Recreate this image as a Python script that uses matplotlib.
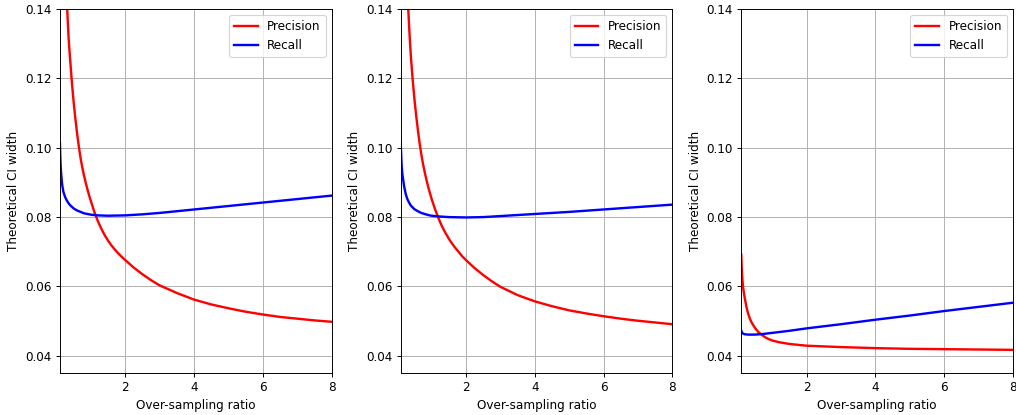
import matplotlib
matplotlib.use("Agg")
import matplotlib.pyplot as plt

# ---- Panel 1 ----
p1_prec_x = [0.3, 0.325, 0.35, 0.375, 0.4, 0.45, 0.5, 0.55, 0.6, 0.65, 0.7, 0.75, 0.8,
             0.85, 0.9, 0.95, 1.0, 1.1, 1.2, 1.3, 1.4, 1.5, 1.6, 1.7, 1.8, 1.9, 2.0,
             2.25, 2.5, 2.75, 3.0, 3.5, 4.0, 4.5, 5.0, 5.5, 6.0, 6.5, 7.0, 7.5, 8.0]
p1_prec_y = [0.1425, 0.1370, 0.1320, 0.1283, 0.1250, 0.1185, 0.1130, 0.1083, 0.1040,
             0.1003, 0.0970, 0.0943, 0.0920, 0.0899, 0.0880, 0.0862, 0.0846, 0.0815,
             0.0789, 0.0767, 0.0748, 0.0732, 0.0718, 0.0706, 0.0695, 0.0685, 0.0676,
             0.0654, 0.0635, 0.0618, 0.0603, 0.0581, 0.0562, 0.0548, 0.0537, 0.0527,
             0.0519, 0.0512, 0.0507, 0.0502, 0.0498]
p1_rec_x = [0.1, 0.11, 0.12, 0.13, 0.15, 0.167, 0.2, 0.25, 0.3, 0.35, 0.4, 0.5, 0.6,
            0.7, 0.8, 0.9, 1.0, 1.2, 1.5, 2.0, 2.5, 3.0, 3.5, 4.0, 5.0, 6.0, 7.0, 8.0]
p1_rec_y = [0.1013, 0.0975, 0.0950, 0.0932, 0.0908, 0.0892, 0.0873, 0.0858, 0.0848,
            0.0840, 0.0834, 0.0825, 0.0819, 0.0815, 0.0811, 0.0809, 0.0807, 0.0805,
            0.0804, 0.0805, 0.0808, 0.0812, 0.0817, 0.0822, 0.0832, 0.0842, 0.0852,
            0.0862]

# ---- Panel 2 ----
p2_prec_x = [0.3, 0.325, 0.35, 0.375, 0.4, 0.45, 0.5, 0.55, 0.6, 0.65, 0.7, 0.75, 0.8,
             0.85, 0.9, 0.95, 1.0, 1.1, 1.2, 1.3, 1.4, 1.5, 1.6, 1.7, 1.8, 1.9, 2.0,
             2.25, 2.5, 2.75, 3.0, 3.5, 4.0, 4.5, 5.0, 5.5, 6.0, 6.5, 7.0, 7.5, 8.0]
p2_prec_y = [0.1450, 0.1395, 0.1345, 0.1300, 0.1262, 0.1197, 0.1142, 0.1095, 0.1053,
             0.1015, 0.0982, 0.0954, 0.0930, 0.0908, 0.0888, 0.0870, 0.0853, 0.0823,
             0.0797, 0.0774, 0.0755, 0.0738, 0.0723, 0.0710, 0.0698, 0.0686, 0.0676,
             0.0653, 0.0633, 0.0615, 0.0599, 0.0575, 0.0557, 0.0543, 0.0531, 0.0522,
             0.0514, 0.0507, 0.0501, 0.0496, 0.0491]
p2_rec_x = [0.1, 0.11, 0.12, 0.13, 0.15, 0.2, 0.25, 0.3, 0.35, 0.4, 0.5, 0.6, 0.7,
            0.8, 0.9, 1.0, 1.2, 1.5, 2.0, 2.5, 3.0, 3.5, 4.0, 5.0, 6.0, 7.0, 8.0]
p2_rec_y = [0.1025, 0.0995, 0.0970, 0.0950, 0.0925, 0.0890, 0.0866, 0.0851, 0.0841,
            0.0833, 0.0823, 0.0817, 0.0812, 0.0809, 0.0806, 0.0804, 0.0802, 0.0800,
            0.0799, 0.0800, 0.0803, 0.0806, 0.0809, 0.0815, 0.0822, 0.0829, 0.0836]

# ---- Panel 3 ----
p3_prec_x = [0.1, 0.11, 0.12, 0.13, 0.15, 0.17, 0.2, 0.25, 0.3, 0.35, 0.4, 0.5, 0.6,
             0.7, 0.8, 0.9, 1.0, 1.2, 1.5, 2.0, 2.5, 3.0, 4.0, 5.0, 6.0, 7.0, 8.0]
p3_prec_y = [0.0692, 0.0660, 0.0638, 0.0622, 0.0600, 0.0585, 0.0567, 0.0541, 0.0521,
             0.0507, 0.0496, 0.0480, 0.0468, 0.0460, 0.0453, 0.0448, 0.0444, 0.0439,
             0.0434, 0.0429, 0.0427, 0.0425, 0.0422, 0.0420, 0.0419, 0.0418, 0.0417]
p3_rec_x = [0.1, 0.12, 0.15, 0.2, 0.3, 0.5, 0.75, 1.0, 1.5, 2.0, 3.0, 4.0, 5.0, 6.0,
            7.0, 8.0]
p3_rec_y = [0.0472, 0.0467, 0.0464, 0.0462, 0.0461, 0.0461, 0.0463, 0.0466, 0.0472,
            0.0479, 0.0491, 0.0504, 0.0516, 0.0529, 0.0541, 0.0553]

panels = [
    (p1_prec_x, p1_prec_y, p1_rec_x, p1_rec_y),
    (p2_prec_x, p2_prec_y, p2_rec_x, p2_rec_y),
    (p3_prec_x, p3_prec_y, p3_rec_x, p3_rec_y),
]

DPI = 86
fig, axes = plt.subplots(1, 3, figsize=(1016 / DPI, 415 / DPI), dpi=DPI)
fig.subplots_adjust(left=0.059, right=0.997, top=0.978, bottom=0.101, wspace=0.254)

for ax, (px, py, rx, ry) in zip(axes, panels):
    ax.plot(px, py, color="red", lw=2, label="Precision")
    ax.plot(rx, ry, color="blue", lw=2, label="Recall")
    ax.set_xlim(0.1, 8.0)
    ax.set_ylim(0.035, 0.14)
    ax.set_xticks([2, 4, 6, 8])
    ax.set_yticks([0.04, 0.06, 0.08, 0.10, 0.12, 0.14])
    ax.grid(True)
    ax.set_xlabel("Over-sampling ratio")
    ax.set_ylabel("Theoretical CI width")
    ax.legend(loc="upper right")

fig.savefig("out.png", dpi=DPI)
